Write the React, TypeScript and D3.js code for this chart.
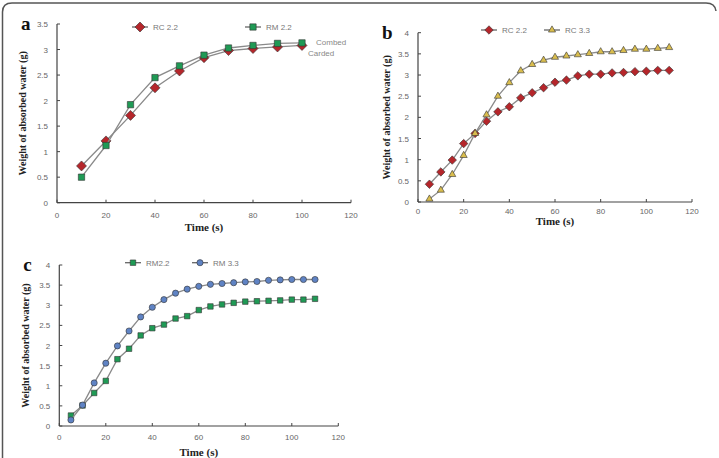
import React from "react";
import * as d3 from "d3";

// panel a: 10..100 s
const TIME_A = [10, 20, 30, 40, 50, 60, 70, 80, 90, 100];
const RC22_A = [0.72, 1.21, 1.71, 2.25, 2.58, 2.84, 2.98, 3.02, 3.05, 3.08];
const RM22_A = [0.5, 1.12, 1.92, 2.45, 2.68, 2.89, 3.03, 3.08, 3.12, 3.13];

// panels b and c: 5..110 s
const TIME_BC = [5, 10, 15, 20, 25, 30, 35, 40, 45, 50, 55, 60, 65, 70, 75, 80, 85, 90, 95, 100, 105, 110];
const RC22_B = [0.42, 0.71, 0.99, 1.38, 1.62, 1.91, 2.13, 2.25, 2.46, 2.58, 2.7, 2.83, 2.88, 2.98, 3.02, 3.02, 3.05, 3.06, 3.08, 3.09, 3.11, 3.11];
const RC33_B = [0.07, 0.28, 0.65, 1.1, 1.62, 2.06, 2.5, 2.82, 3.1, 3.25, 3.35, 3.42, 3.45, 3.48, 3.51, 3.55, 3.55, 3.58, 3.61, 3.61, 3.63, 3.65];
const RM22_C = [0.26, 0.51, 0.82, 1.12, 1.66, 1.92, 2.25, 2.43, 2.52, 2.67, 2.73, 2.88, 2.97, 3.02, 3.06, 3.09, 3.1, 3.11, 3.12, 3.14, 3.14, 3.16];
const RM33_C = [0.15, 0.52, 1.07, 1.56, 1.99, 2.36, 2.71, 2.95, 3.14, 3.3, 3.4, 3.47, 3.52, 3.54, 3.56, 3.58, 3.59, 3.62, 3.63, 3.64, 3.64, 3.64];

const X_TICKS = [0, 20, 40, 60, 80, 100, 120];
const Y_TICKS_A = [0, 0.5, 1, 1.5, 2, 2.5, 3, 3.5];
const Y_TICKS_BC = [0, 0.5, 1, 1.5, 2, 2.5, 3, 3.5, 4];

const X_TITLE = "Time (s)";
const Y_TITLE = "Weight of absorbed water (g)";

const serif = "'Liberation Serif', 'Times New Roman', serif";
const sans = "'Liberation Sans', Arial, sans-serif";

type Series = {
  name: string;
  values: number[];
  shape: d3.SymbolType;
  size: number;
  fill: string;
  legendX: number;
};

type PanelProps = {
  letter: string;
  xr: [number, number];
  yr: [number, number];
  yMax: number;
  yTicks: number[];
  times: number[];
  series: Series[];
  legendY: number;
  tickDy: number;
  titleY: number;
  yTitleX: number;
  notes?: { text: string; x: number; y: number }[];
};

// squat diamond, closer to the Excel marker than d3.symbolDiamond
const diamond: d3.SymbolType = {
  draw(ctx, size) {
    const r = Math.sqrt(size / 2);
    ctx.moveTo(0, -r);
    ctx.lineTo(r, 0);
    ctx.lineTo(0, r);
    ctx.lineTo(-r, 0);
    ctx.closePath();
  },
};

const Panel = ({ letter, xr, yr, yMax, yTicks, times, series, legendY, tickDy, titleY, yTitleX, notes }: PanelProps) => {
  const x = d3.scaleLinear().domain([0, 120]).range(xr);
  const y = d3.scaleLinear().domain([0, yMax]).range(yr);
  const line = d3
    .line<number>()
    .x((_, i) => x(times[i]))
    .y((d) => y(d));
  const axisColor = "#444";
  const yMid = (yr[0] + yr[1]) / 2;

  return (
    <g>
      <text x={xr[0] - 36} y={yr[1] + 6} fontFamily={serif} fontWeight="bold" fontSize={19} fill="#111">
        {letter}
      </text>
      {/* axes */}
      <line x1={xr[0]} x2={xr[0]} y1={yr[0]} y2={yr[1]} stroke={axisColor} strokeWidth={1.2} />
      <line x1={xr[0]} x2={xr[1]} y1={yr[0]} y2={yr[0]} stroke={axisColor} strokeWidth={1.2} />
      {yTicks.map((t) => (
        <g key={"y" + t}>
          <line x1={xr[0]} x2={xr[0] + 3} y1={y(t)} y2={y(t)} stroke={axisColor} />
          <text x={xr[0] - 9} y={y(t) + 3} textAnchor="end" fontFamily={sans} fontSize={8} fill="#666">
            {t}
          </text>
        </g>
      ))}
      {X_TICKS.map((t) => (
        <g key={"x" + t}>
          <line x1={x(t)} x2={x(t)} y1={yr[0]} y2={yr[0] - 3} stroke={axisColor} />
          <text x={x(t)} y={yr[0] + tickDy} textAnchor="middle" fontFamily={sans} fontSize={8} fill="#666">
            {t}
          </text>
        </g>
      ))}
      <text x={x(60)} y={titleY} textAnchor="middle" fontFamily={serif} fontWeight="bold" fontSize={11} fill="#222">
        {X_TITLE}
      </text>
      <text
        transform={`translate(${yTitleX},${yMid}) rotate(-90)`}
        textAnchor="middle"
        fontFamily={serif}
        fontWeight="bold"
        fontSize={10}
        fill="#222"
      >
        {Y_TITLE}
      </text>
      {/* series */}
      {series.map((s) => (
        <g key={s.name}>
          <path d={line(s.values) || ""} fill="none" stroke="#8a8a8a" strokeWidth={1.3} />
          {s.values.map((v, i) => (
            <path
              key={i}
              transform={`translate(${x(times[i])},${y(v)})`}
              d={d3.symbol(s.shape, s.size)() || ""}
              fill={s.fill}
              stroke="#333"
              strokeWidth={0.6}
            />
          ))}
          <line x1={s.legendX} x2={s.legendX + 16} y1={legendY} y2={legendY} stroke="#666" strokeWidth={1.3} />
          <path
            transform={`translate(${s.legendX + 8},${legendY})`}
            d={d3.symbol(s.shape, s.size)() || ""}
            fill={s.fill}
            stroke="#333"
            strokeWidth={0.6}
          />
          <text x={s.legendX + 21} y={legendY + 3} fontFamily={sans} fontSize={8} fill="#777">
            {s.name}
          </text>
        </g>
      ))}
      {notes &&
        notes.map((n) => (
          <text key={n.text} x={n.x} y={n.y} fontFamily={sans} fontSize={8} fill="#888">
            {n.text}
          </text>
        ))}
    </g>
  );
};

const RED = "#b5262b";
const GREEN = "#1f9a55";
const YELLOW = "#d9bd4e";
const BLUE = "#5f83c4";

const App = () => {
  return (
    <svg
      width={719}
      height={458}
      style={{ position: "absolute", left: 0, top: 0, display: "block", background: "#fff" }}
    >
      <path d="M2.5,458 L2.5,12 Q2.5,3 12,3 L706,3 Q715,3 716,11" fill="none" stroke="#555" strokeWidth={1.5} />
      <Panel
        letter="a"
        xr={[57, 351]}
        yr={[202.7, 24]}
        yMax={3.5}
        yTicks={Y_TICKS_A}
        times={TIME_A}
        legendY={27}
        tickDy={15}
        titleY={231}
        yTitleX={26}
        series={[
          { name: "RC 2.2", values: RC22_A, shape: diamond, size: 50, fill: RED, legendX: 132 },
          { name: "RM 2.2", values: RM22_A, shape: d3.symbolSquare, size: 40, fill: GREEN, legendX: 245 },
        ]}
        notes={[
          { text: "Combed", x: 316, y: 45 },
          { text: "Carded", x: 308, y: 56 },
        ]}
      />
      <Panel
        letter="b"
        xr={[418, 692]}
        yr={[202, 32.7]}
        yMax={4}
        yTicks={Y_TICKS_BC}
        times={TIME_BC}
        legendY={30}
        tickDy={11.5}
        titleY={225}
        yTitleX={390}
        series={[
          { name: "RC 2.2", values: RC22_B, shape: diamond, size: 36, fill: RED, legendX: 481 },
          { name: "RC 3.3", values: RC33_B, shape: d3.symbolTriangle, size: 22, fill: YELLOW, legendX: 544 },
        ]}
      />
      <Panel
        letter="c"
        xr={[59.3, 338.3]}
        yr={[426, 265]}
        yMax={4}
        yTicks={Y_TICKS_BC}
        times={TIME_BC}
        legendY={262.7}
        tickDy={14}
        titleY={456}
        yTitleX={29}
        series={[
          { name: "RM2.2", values: RM22_C, shape: d3.symbolSquare, size: 30, fill: GREEN, legendX: 125 },
          { name: "RM 3.3", values: RM33_C, shape: d3.symbolCircle, size: 30, fill: BLUE, legendX: 192 },
        ]}
      />
    </svg>
  );
};

export default App;
